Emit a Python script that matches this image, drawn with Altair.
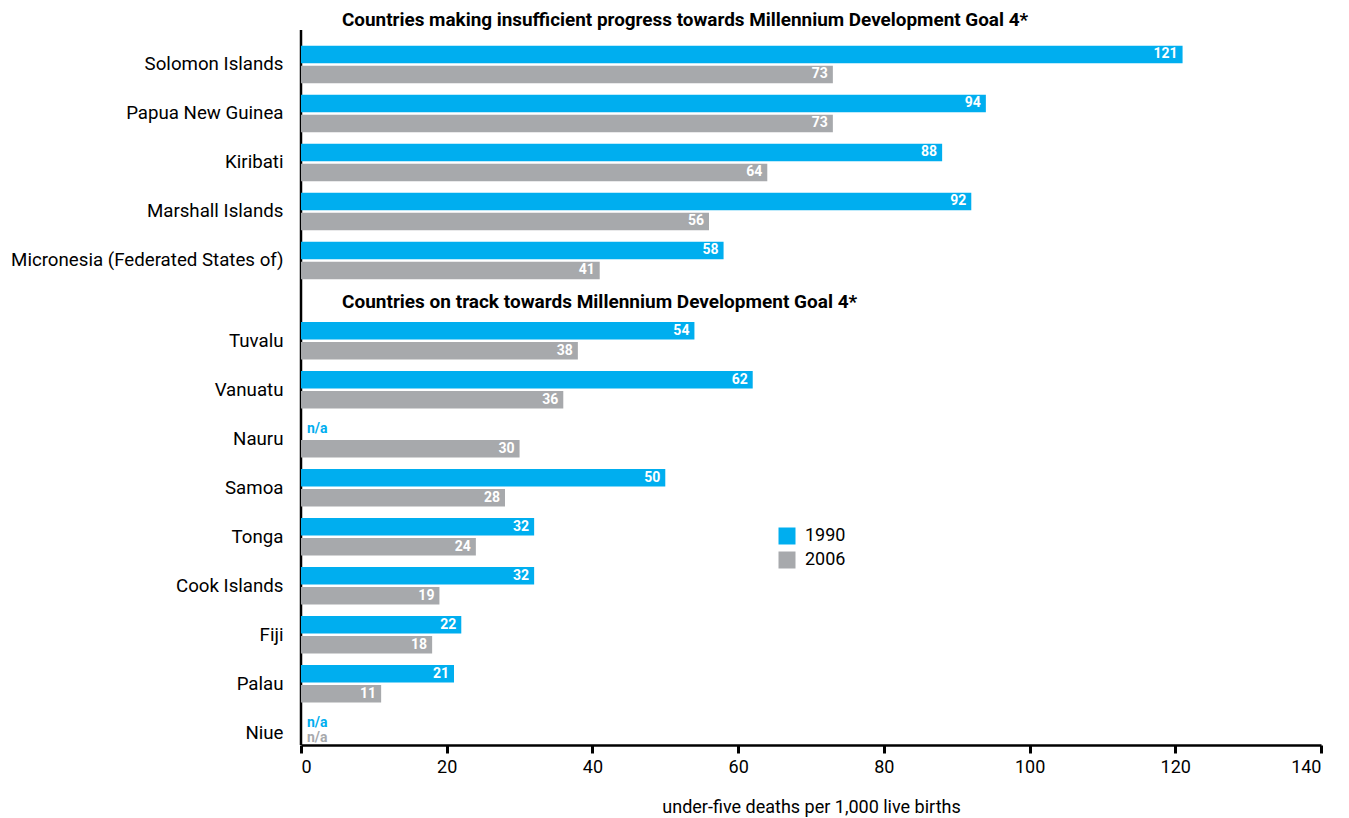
import altair as alt
import pandas as pd

FONT = "Roboto"
BLUE = "#00AEEF"
GRAY = "#A7A9AC"

years = ["1990", "2006"]

top_countries = ["Solomon Islands", "Papua New Guinea", "Kiribati", "Marshall Islands",
                 "Micronesia (Federated States of)"]
top_1990 = [121, 94, 88, 92, 58]
top_2006 = [73, 73, 64, 56, 41]

bot_countries = ["Tuvalu", "Vanuatu", "Nauru", "Samoa", "Tonga", "Cook Islands", "Fiji", "Palau", "Niue"]
bot_1990 = [54, 62, None, 50, 32, 32, 22, 21, None]
bot_2006 = [38, 36, 30, 28, 24, 19, 18, 11, None]

header_top = "Countries making insufficient progress towards Millennium Development Goal 4*"
header_bot = "Countries on track towards Millennium Development Goal 4*"
x_title = "under-five deaths per 1,000 live births"
x_ticks = [0, 20, 40, 60, 80, 100, 120, 140]

STEP = 49.0
PI = 11.5 / 49.0


def long_df(countries, v1990, v2006):
    rows = []
    for c, a, b in zip(countries, v1990, v2006):
        rows.append({"country": c, "year": "1990", "value": a})
        rows.append({"country": c, "year": "2006", "value": b})
    return pd.DataFrame(rows)


def panel(countries, v1990, v2006, header, header_y, header_size, r0, height, show_x, show_legend):
    df = long_df(countries, v1990, v2006)
    n = len(countries)
    rng = [r0, r0 + STEP * (n - PI)]
    y = alt.Y("country:N", sort=countries,
              scale=alt.Scale(domain=countries, range=rng, paddingInner=PI, paddingOuter=0),
              axis=alt.Axis(title=None, domain=False, ticks=False, labelFontSize=18.7,
                            labelFont=FONT, labelColor="black", labelPadding=18, labelLimit=400))
    yoff = alt.YOffset("year:N", scale=alt.Scale(domain=years, paddingInner=0.125))
    if show_x:
        xaxis = alt.Axis(values=x_ticks, grid=False, domainColor="black", domainWidth=2.5,
                         tickColor="black", tickWidth=3, tickSize=8, labelFontSize=18,
                         labelFont=FONT, labelColor="black", labelPadding=5,
                         title=x_title, titleFontSize=18, titleFont=FONT,
                         titleFontWeight="normal", titleColor="black", titlePadding=22)
    else:
        xaxis = None
    x = alt.X("value:Q", scale=alt.Scale(domain=[0, 140], nice=False), axis=xaxis)
    color = alt.Color("year:N", scale=alt.Scale(domain=years, range=[BLUE, GRAY]),
                      legend=alt.Legend(title=None, orient="none", legendX=477, legendY=241,
                                        symbolType="square", symbolSize=289, symbolStrokeWidth=0,
                                        labelFontSize=18, labelFont=FONT, labelColor="black",
                                        rowPadding=6, labelOffset=9, padding=0)
                      if show_legend else None)

    base = alt.Chart(df).encode(y=y, yOffset=yoff)
    bars = base.mark_bar().encode(x=x, color=color)
    labels = base.mark_text(align="right", baseline="middle", dx=-5, color="white",
                            fontWeight="bold", fontSize=14, font=FONT).encode(
        x=alt.X("value:Q"), text=alt.Text("value:Q"))
    na_blue = base.transform_filter("datum.value == null && datum.year == '1990'").mark_text(
        align="left", baseline="middle", dx=6, dy=0, color=BLUE, fontWeight="bold",
        fontSize=14, font=FONT).encode(x=alt.datum(0), text=alt.value("n/a"))
    na_gray = base.transform_filter("datum.value == null && datum.year == '2006'").mark_text(
        align="left", baseline="middle", dx=6, dy=-5, color=GRAY, fontWeight="bold",
        fontSize=14, font=FONT).encode(x=alt.datum(0), text=alt.value("n/a"))
    head = alt.Chart(pd.DataFrame({"t": [header]})).mark_text(
        align="left", baseline="middle", fontWeight="bold", fontSize=header_size, font=FONT,
        color="black").encode(text="t:N", x=alt.value(41), y=alt.value(header_y))
    axis_line = alt.Chart(pd.DataFrame({"t": [header]})).mark_rule(
        color="black", strokeWidth=2.5).encode(
        x=alt.value(0), y=alt.value(0), y2=alt.value(height))
    return alt.layer(axis_line, bars, labels, na_blue, na_gray, head).properties(
        width=1020, height=height)


top = panel(top_countries, top_1990, top_2006, header_top, -10, 18.9, 15.7, 256, False, False)
bot = panel(bot_countries, bot_1990, bot_2006, header_bot, 15.5, 19, 36, 459, True, True)

chart = alt.vconcat(top, bot, spacing=0, bounds="flush").resolve_scale(
    color="independent").properties(
    padding={"left": 2, "top": 3, "right": 5, "bottom": 3}
).configure_view(stroke=None)

chart.save("out.html", embed_options={"renderer": "svg", "actions": False})
